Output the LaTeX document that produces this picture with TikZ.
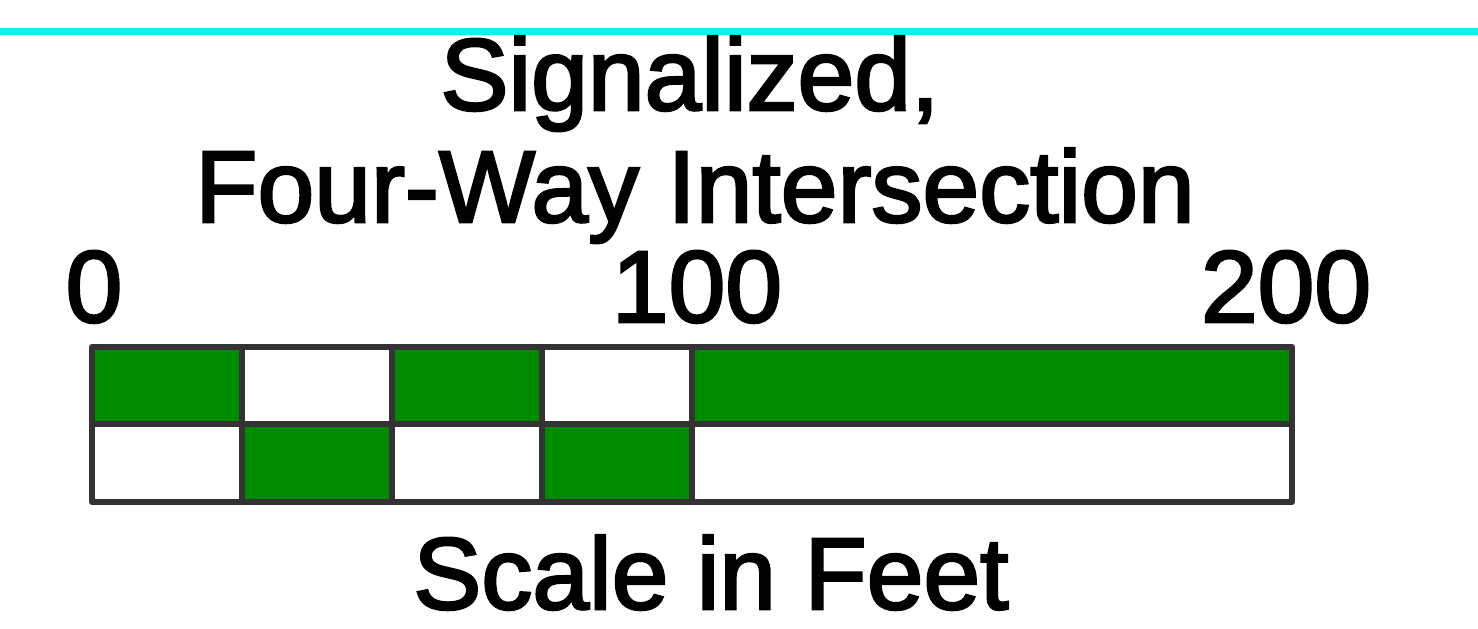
\documentclass[tikz,border=0pt]{standalone}
\usepackage{fontspec}
\setmainfont[FakeBold=2.5]{Liberation Sans}
\definecolor{barGreen}{RGB}{0,140,0}
\definecolor{barEdge}{RGB}{52,50,52}
\definecolor{topCyan}{RGB}{20,238,240}
\begin{document}
\begin{tikzpicture}[x=1pt,y=-1pt,
  lbl/.style={anchor=base,inner sep=0pt,font=\fontsize{102}{120}\selectfont},
  cellG/.style={fill=barGreen},
  edge/.style={draw=barEdge,line width=6pt,line join=round}]
\useasboundingbox (0,0) rectangle (1478,629);
\fill[white] (0,0) rectangle (1478,629);
\draw[topCyan,line width=7pt] (0,31) -- (1478,31);
% cells
\foreach \i/\r in {0/0,2/0,1/1,3/1}{
  \fill[cellG] (92+150*\i,347+77*\r) rectangle (242+150*\i,424+77*\r);
}
\fill[cellG] (692,347) rectangle (1292,424);
% grid
\draw[edge] (92,347) rectangle (1292,502);
\draw[edge] (92,424) -- (1292,424);
\foreach \x in {242,392,542,692}{\draw[edge] (\x,347) -- (\x,502);}
% labels
\node[lbl] (t1) at (690,110) {Signalized,};
\node[lbl] (t2) at (695,222) {Four-Way Intersection};
\node[lbl] (n0) at (94,322) {0};
\node[lbl] (n100) at (697,322) {100};
\node[lbl] (n200) at (1286,322) {200};
\node[lbl] (cap) at (711,609) {Scale in Feet};
\end{tikzpicture}
\end{document}
